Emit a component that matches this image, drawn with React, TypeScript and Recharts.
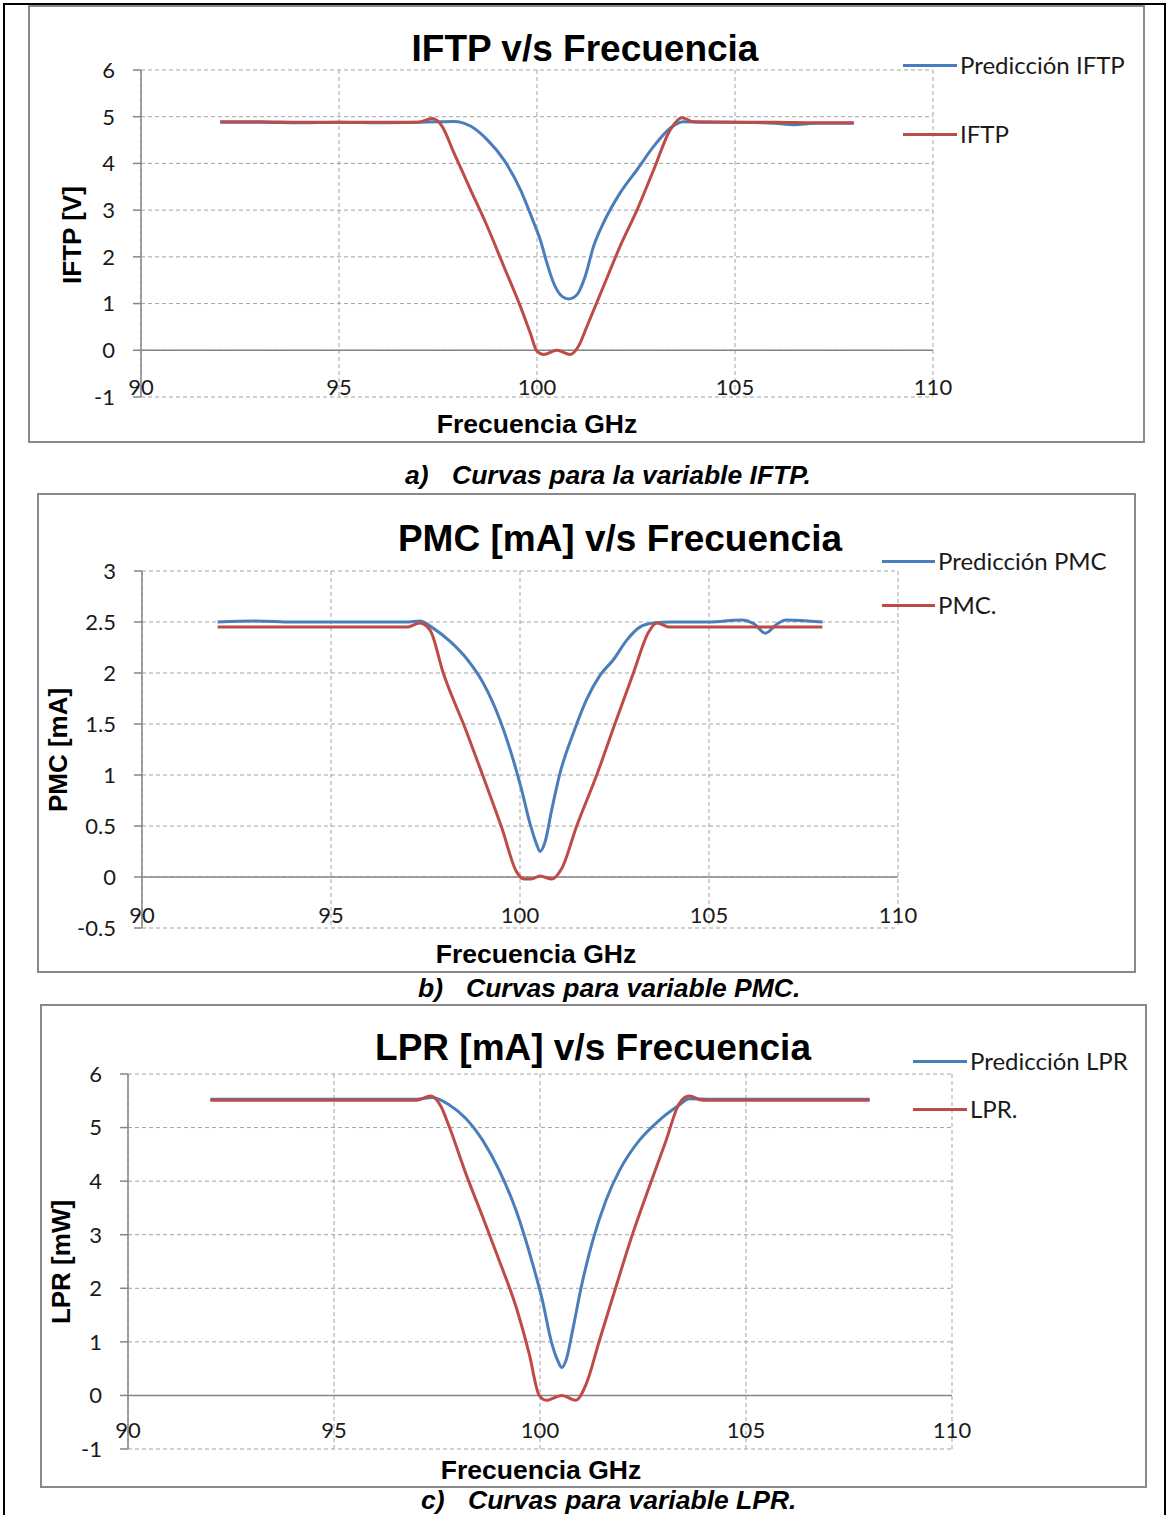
import { LineChart, Line, XAxis, YAxis, CartesianGrid, ReferenceLine } from 'recharts'

const FREQ_TICKS = [90, 95, 100, 105, 110]

// a) IFTP
const iftpPredF = [92, 93, 94, 95, 96, 97, 97.5, 97.9, 98.32, 98.74, 99.16, 99.58, 99.92, 100.08, 100.25, 100.42, 100.59, 100.8, 101.01, 101.22, 101.43, 101.68, 102.1, 102.53, 102.95, 103.37, 103.7, 104.2, 105, 106, 106.5, 107, 108]
const iftpPredV = [4.88, 4.88, 4.87, 4.88, 4.87, 4.88, 4.89, 4.9, 4.8, 4.51, 4.08, 3.44, 2.73, 2.37, 1.87, 1.44, 1.19, 1.1, 1.19, 1.59, 2.23, 2.73, 3.37, 3.87, 4.37, 4.76, 4.89, 4.88, 4.88, 4.86, 4.83, 4.86, 4.86]
const iftpF = [92, 93, 94, 95, 96, 97, 97.35, 97.6, 97.9, 98.32, 98.74, 99.16, 99.58, 99.83, 100.0, 100.17, 100.5, 100.84, 101.05, 101.26, 101.68, 102.1, 102.53, 102.95, 103.37, 103.66, 103.96, 105, 106, 107, 108]
const iftpV = [4.89, 4.89, 4.88, 4.88, 4.88, 4.88, 4.96, 4.8, 4.23, 3.44, 2.66, 1.8, 0.94, 0.37, -0.02, -0.09, 0.0, -0.09, 0.09, 0.51, 1.37, 2.23, 3.01, 3.87, 4.73, 4.98, 4.89, 4.88, 4.88, 4.87, 4.87]
const iftpTicks = [-1, 0, 1, 2, 3, 4, 5, 6]

// b) PMC
const pmcPredF = [92, 93, 94, 95, 96, 97, 97.35, 97.7, 98.15, 98.59, 99.03, 99.47, 99.82, 100.04, 100.26, 100.44, 100.53, 100.66, 100.84, 101.06, 101.41, 101.76, 102.12, 102.47, 102.82, 103.17, 103.53, 104, 105, 105.85, 106.2, 106.49, 106.8, 107.04, 108]
const pmcPredV = [2.5, 2.51, 2.5, 2.5, 2.5, 2.5, 2.51, 2.44, 2.31, 2.14, 1.9, 1.54, 1.15, 0.86, 0.53, 0.32, 0.25, 0.34, 0.66, 1.02, 1.41, 1.74, 1.98, 2.13, 2.32, 2.45, 2.49, 2.5, 2.5, 2.52, 2.48, 2.39, 2.48, 2.52, 2.5]
const pmcF = [92, 93, 94, 95, 96, 97, 97.35, 97.62, 97.97, 98.59, 99.03, 99.52, 99.91, 100.1, 100.3, 100.53, 100.84, 101.1, 101.5, 102.03, 102.51, 103.0, 103.4, 103.62, 103.97, 105, 106, 107, 108]
const pmcV = [2.45, 2.45, 2.45, 2.45, 2.45, 2.45, 2.49, 2.42, 2.0, 1.42, 0.98, 0.48, 0.05, -0.02, -0.02, 0.01, -0.02, 0.08, 0.5, 1.0, 1.5, 2.0, 2.4, 2.49, 2.45, 2.45, 2.45, 2.45, 2.45]
const pmcTicks = [-0.5, 0, 0.5, 1, 1.5, 2, 2.5, 3]

// c) LPR
const lprPredF = [92, 93, 94, 95, 96, 97, 97.39, 97.8, 98.2, 98.61, 99.01, 99.42, 99.82, 100.06, 100.27, 100.43, 100.53, 100.63, 100.79, 101.0, 101.28, 101.6, 101.93, 102.41, 102.9, 103.38, 103.62, 104.2, 105, 106, 107, 108]
const lprPredV = [5.53, 5.53, 5.53, 5.53, 5.53, 5.53, 5.56, 5.42, 5.17, 4.76, 4.2, 3.45, 2.46, 1.77, 1.02, 0.65, 0.52, 0.65, 1.21, 2.02, 2.89, 3.64, 4.2, 4.76, 5.14, 5.42, 5.54, 5.53, 5.53, 5.53, 5.53, 5.53]
const lprF = [92, 93, 94, 95, 96, 97, 97.35, 97.6, 97.8, 98.2, 98.61, 99.01, 99.42, 99.74, 99.98, 100.15, 100.53, 100.87, 101.12, 101.44, 101.84, 102.25, 102.65, 103.06, 103.38, 103.62, 103.95, 105, 106, 107, 108]
const lprV = [5.51, 5.51, 5.51, 5.51, 5.51, 5.51, 5.59, 5.39, 5.01, 4.14, 3.33, 2.52, 1.65, 0.77, 0.0, -0.09, 0.0, -0.09, 0.21, 1.02, 2.02, 3.02, 3.89, 4.76, 5.45, 5.59, 5.51, 5.51, 5.51, 5.51, 5.51]
const lprTicks = [-1, 0, 1, 2, 3, 4, 5, 6]

const BLUE = '#4a7ebb'
const RED = '#be4b48'
const AXIS = '#868686'
const GRID = '#a3a3a3'
const INK = '#1a1a1a'
const YW = 40
const XH = 20

const zip = (f: number[], v: number[]) => f.map((x, i) => ({ f: x, v: v[i] }))

interface Rect { x: number; y: number; w: number; h: number }
interface PanelProps {
  box: Rect
  plot: { l: number; t: number; r: number; b: number }
  title: string
  titleAt: [number, number]
  yLabel: string
  yLabelAt: [number, number]
  xLabelAt: [number, number]
  legend: { names: [string, string]; x1: number; x2: number; ys: [number, number] }
  yTicks: number[]
  tickDy: number
  pred: { f: number; v: number }[]
  meas: { f: number; v: number }[]
  caption: { tag: string; text: string; x: number; textX: number; cy: number }
}

function Txt({ cx, cy, children, style, rotate }: any) {
  return (
    <div
      style={{
        position: 'absolute', left: cx, top: cy, whiteSpace: 'nowrap', lineHeight: 1,
        transform: `translate(-50%, -50%)${rotate ? ' rotate(-90deg)' : ''}`,
        ...style,
      }}
    >
      {children}
    </div>
  )
}

const boldArial = { fontFamily: '"Liberation Sans", Arial, sans-serif', fontWeight: 700, color: '#000' }

function Panel(p: PanelProps) {
  const { box, plot } = p
  const margin = {
    top: plot.t - box.y,
    right: box.x + box.w - plot.r,
    left: plot.l - box.x - YW,
    bottom: box.y + box.h - plot.b - XH,
  }
  const XTick = (tp: any) => (
    <text x={tp.x} y={tp.y + p.tickDy} textAnchor="middle" fontFamily="Lato" fontSize={22} fill={INK}>
      {tp.payload.value}
    </text>
  )
  return (
    <>
      <div style={{ position: 'absolute', left: box.x, top: box.y }}>
        <LineChart width={box.w} height={box.h} margin={margin}>
          <CartesianGrid stroke={GRID} strokeDasharray="4 3" />
          <XAxis
            type="number" dataKey="f" domain={[90, 110]} ticks={FREQ_TICKS} interval={0}
            height={XH} axisLine={false} tickLine={false} tickSize={0} tickMargin={0}
            tick={XTick} allowDataOverflow
          />
          <YAxis
            type="number" domain={[p.yTicks[0], p.yTicks[p.yTicks.length - 1]]} ticks={p.yTicks} interval={0}
            width={YW} axisLine={{ stroke: AXIS, strokeWidth: 1.5 }} tickLine={{ stroke: AXIS, strokeWidth: 1.5 }}
            tickSize={8} tickMargin={18}
            tick={{ fontFamily: 'Lato', fontSize: 22, fill: INK }}
            allowDataOverflow
          />
          <ReferenceLine y={0} stroke={AXIS} strokeWidth={1.5} />
          <Line data={p.pred} dataKey="v" type="monotone" stroke={BLUE} strokeWidth={3} dot={false} isAnimationActive={false} />
          <Line data={p.meas} dataKey="v" type="monotone" stroke={RED} strokeWidth={3} dot={false} isAnimationActive={false} />
        </LineChart>
      </div>
      <div style={{ position: 'absolute', left: box.x, top: box.y, width: box.w, height: box.h, border: '2px solid #898989', boxSizing: 'border-box', pointerEvents: 'none' }} />

      <Txt cx={p.titleAt[0]} cy={p.titleAt[1]} style={{ ...boldArial, fontSize: 37 }}>{p.title}</Txt>
      <Txt cx={p.yLabelAt[0]} cy={p.yLabelAt[1]} rotate style={{ ...boldArial, fontSize: 26 }}>{p.yLabel}</Txt>
      <Txt cx={p.xLabelAt[0]} cy={p.xLabelAt[1]} style={{ ...boldArial, fontSize: 26.5 }}>Frecuencia GHz</Txt>

      {p.legend.names.map((name, i) => (
        <div
          key={name}
          style={{ position: 'absolute', left: p.legend.x1, top: p.legend.ys[i], transform: 'translateY(-50%)', display: 'flex', alignItems: 'center', whiteSpace: 'nowrap' }}
        >
          <span style={{ display: 'inline-block', width: p.legend.x2 - p.legend.x1, height: 3, background: i === 0 ? BLUE : RED }} />
          <span style={{ marginLeft: 3, fontFamily: 'Lato', fontSize: 24, lineHeight: 1, color: INK }}>{name}</span>
        </div>
      ))}

      <div style={{ position: 'absolute', left: p.caption.x, top: p.caption.cy, transform: 'translateY(-50%)', whiteSpace: 'nowrap', lineHeight: 1, fontSize: 26.5, fontStyle: 'italic', ...boldArial }}>
        <span>{p.caption.tag}</span>
        <span style={{ position: 'absolute', left: p.caption.textX - p.caption.x, top: 0 }}>{p.caption.text}</span>
      </div>
    </>
  )
}

export default function App() {
  return (
    <div style={{ position: 'absolute', left: 0, top: 0, width: 1167, height: 1515, overflow: 'hidden', background: '#fff' }}>
      <div style={{ position: 'absolute', left: 3, top: 3, width: 1163, height: 1600, border: '2px solid #000', boxSizing: 'border-box' }} />

      <Panel
        box={{ x: 28, y: 5, w: 1117, h: 438 }}
        plot={{ l: 141, t: 70, r: 933, b: 397 }}
        title="IFTP v/s Frecuencia"
        titleAt={[585, 48]}
        yLabel="IFTP [V]"
        yLabelAt={[72, 235]}
        xLabelAt={[537, 424]}
        legend={{ names: ['Predicción IFTP', 'IFTP'], x1: 903, x2: 957, ys: [65, 134] }}
        yTicks={iftpTicks}
        tickDy={-2}
        pred={zip(iftpPredF, iftpPredV)}
        meas={zip(iftpF, iftpV)}
        caption={{ tag: 'a)', text: 'Curvas para la variable IFTP.', x: 405, textX: 452, cy: 475 }}
      />

      <Panel
        box={{ x: 37, y: 493, w: 1099, h: 480 }}
        plot={{ l: 142, t: 571, r: 898, b: 928 }}
        title="PMC [mA] v/s Frecuencia"
        titleAt={[620, 538]}
        yLabel="PMC [mA]"
        yLabelAt={[58, 750]}
        xLabelAt={[536, 954]}
        legend={{ names: ['Predicción PMC', 'PMC.'], x1: 882, x2: 935, ys: [561, 605] }}
        yTicks={pmcTicks}
        tickDy={-5}
        pred={zip(pmcPredF, pmcPredV)}
        meas={zip(pmcF, pmcV)}
        caption={{ tag: 'b)', text: 'Curvas para variable PMC.', x: 418, textX: 466, cy: 988 }}
      />

      <Panel
        box={{ x: 40, y: 1004, w: 1107, h: 484 }}
        plot={{ l: 128, t: 1074, r: 952, b: 1449 }}
        title="LPR [mA] v/s Frecuencia"
        titleAt={[593, 1047]}
        yLabel="LPR [mW]"
        yLabelAt={[61, 1262]}
        xLabelAt={[541, 1470]}
        legend={{ names: ['Predicción LPR', 'LPR.'], x1: 913, x2: 967, ys: [1061, 1109] }}
        yTicks={lprTicks}
        tickDy={-11}
        pred={zip(lprPredF, lprPredV)}
        meas={zip(lprF, lprV)}
        caption={{ tag: 'c)', text: 'Curvas para variable LPR.', x: 421, textX: 468, cy: 1500 }}
      />
    </div>
  )
}
